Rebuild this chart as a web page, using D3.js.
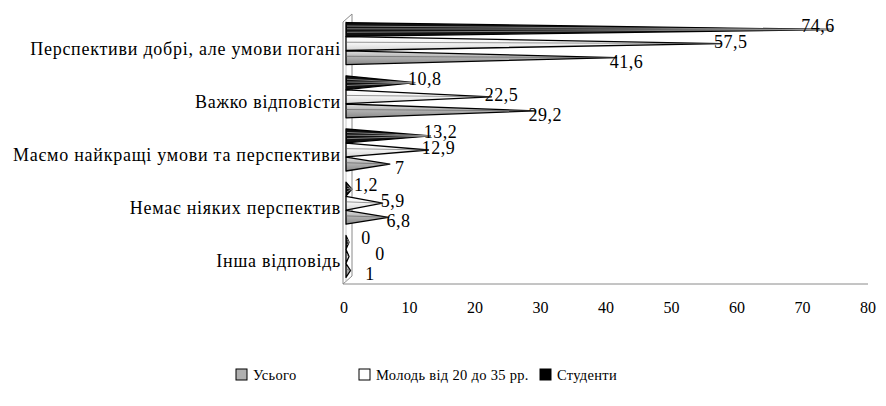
<!DOCTYPE html>
<html lang="uk">
<head>
<meta charset="UTF-8" />
<script src="https://d3js.org/d3.v7.min.js"></script>
<style>
    body { margin: 0; background: #fff; }
</style>
</head>
<body>
<svg id="chart" width="886" height="406" font-family="'Liberation Serif', serif"></svg>
<script>
    // Дані
    const categories = [
        "Перспективи добрі, але умови погані",
        "Важко відповісти",
        "Маємо найкращі умови та перспективи",
        "Немає ніяких перспектив",
        "Інша відповідь"
    ];
    const seriesNames = ["Усього", "Молодь від 20 до 35 рр.", "Студенти"];
    const totalValues = [41.6, 29.2, 7, 6.8, 1];
    const youthValues = [57.5, 22.5, 12.9, 5.9, 0];
    const studentValues = [74.6, 10.8, 13.2, 1.2, 0];
    const xTicks = [0, 10, 20, 30, 40, 50, 60, 70, 80];

    const seriesValues = [totalValues, youthValues, studentValues];
    const fills = ["url(#gTotal)", "url(#gYouth)", "#111"];
    const legendFills = ["#b0b0b0", "#fff", "#000"];
    const serif = "'Liberation Serif', 'Times New Roman', serif";

    const svg = d3.select("#chart");

    // Градієнти
    const defs = svg.append("defs");
    function grad(id, stops) {
        const g = defs.append("linearGradient").attr("id", id)
            .attr("x1", 0).attr("y1", 0).attr("x2", 0).attr("y2", 1);
        stops.forEach(s => g.append("stop").attr("offset", s[0]).attr("stop-color", s[1]));
    }
    grad("gTotal", [[0, "#e2e2e2"], [0.45, "#b2b2b2"], [1, "#8a8a8a"]]);
    grad("gYouth", [[0, "#ffffff"], [0.5, "#f3f3f3"], [1, "#d6d6d6"]]);

    // Шкали
    const x = d3.scaleLinear().domain([0, 80]).range([344, 868]);
    const y = d3.scaleBand().domain(categories).range([17, 283])
        .paddingInner(0.2).paddingOuter(0.1);
    // порядок зверху вниз: Студенти, Молодь, Усього
    const ySub = d3.scaleBand().domain([2, 1, 0]).range([0, y.bandwidth()]).padding(0.02);

    const depthX = 9, depthY = -8;

    // Стінка (вертикальна площина)
    const x0 = x(0);
    const wallTop = 22, wallBottom = 284;
    svg.append("path")
        .attr("d", `M${x0 - 1},${wallBottom} L${x0 - 1},${wallTop} L${x0 - 1 + depthX},${wallTop + depthY} L${x0 - 1 + depthX},${wallBottom + depthY} Z`)
        .attr("fill", "none").attr("stroke", "#8a8a8a").attr("stroke-width", 1);
    svg.append("line")
        .attr("x1", x0 + 2).attr("x2", x0 + 2)
        .attr("y1", wallTop - 1).attr("y2", wallBottom - 2)
        .attr("stroke", "#c8c8c8").attr("stroke-width", 1);

    // Вісь X
    svg.append("line")
        .attr("x1", x0 - 1).attr("x2", x(80))
        .attr("y1", wallBottom).attr("y2", wallBottom)
        .attr("stroke", "#8a8a8a").attr("stroke-width", 1);

    svg.append("g").selectAll("text")
        .data(xTicks)
        .join("text")
        .attr("x", d => x(d))
        .attr("y", 313)
        .attr("text-anchor", "middle")
        .attr("font-family", serif)
        .attr("font-size", 16)
        .text(d => d);

    // Підписи категорій
    svg.append("g").selectAll("text")
        .data(categories)
        .join("text")
        .attr("x", 341)
        .attr("y", d => y(d) + y.bandwidth() / 2 + 11)
        .attr("text-anchor", "end")
        .attr("font-family", serif)
        .attr("font-size", 18)
        .attr("letter-spacing", 0.75)
        .text(d => d);

    // Піраміди
    const bars = [];
    categories.forEach((c, ci) => {
        seriesValues.forEach((vals, si) => {
            bars.push({ cat: c, s: si, v: vals[ci] });
        });
    });

    const g = svg.append("g");
    bars.forEach(b => {
        const top = y(b.cat) + ySub(b.s);
        const h = ySub.bandwidth();
        const yc = top + h / 2;
        const tip = Math.max(x(b.v), x0 + 5);
        const bx = x0 + 2;
        g.append("path")
            .attr("d", `M${bx},${top} L${tip},${yc} L${bx},${top + h} Z`)
            .attr("fill", fills[b.s])
            .attr("stroke", "#000")
            .attr("stroke-width", 1.3)
            .attr("stroke-linejoin", "round");
        if (b.s === 2) {
            [0.25, 0.45, 0.7].forEach(f => {
                g.append("line")
                    .attr("x1", bx + 1).attr("y1", top + h * f)
                    .attr("x2", tip).attr("y2", yc)
                    .attr("stroke", "#9a9a9a").attr("stroke-width", 0.8);
            });
        } else {
            g.append("line")
                .attr("x1", bx).attr("y1", top + h * 0.4)
                .attr("x2", tip).attr("y2", yc)
                .attr("stroke", "#555").attr("stroke-width", 0.6);
        }
    });

    // Підписи значень (зсув по серіях: Усього, Молодь, Студенти)
    const labelDy = [4, -2, -4];
    const labelMinDx = [26, 36, 22];
    svg.append("g").selectAll("text")
        .data(bars)
        .join("text")
        .attr("x", d => Math.min(Math.max(x(d.v) + 10, x0 + labelMinDx[d.s]), 818))
        .attr("y", d => y(d.cat) + ySub(d.s) + ySub.bandwidth() / 2 + 6 + labelDy[d.s])
        .attr("text-anchor", "middle")
        .attr("font-family", serif)
        .attr("font-size", 18)
        .attr("letter-spacing", 0.5)
        .text(d => String(d.v).replace(".", ","));

    // Легенда
    const legendX = [236, 359, 540];
    const legend = svg.append("g");
    seriesNames.forEach((name, i) => {
        legend.append("rect")
            .attr("x", legendX[i]).attr("y", 369)
            .attr("width", 11).attr("height", 11)
            .attr("fill", legendFills[i])
            .attr("stroke", "#000").attr("stroke-width", 1);
        legend.append("text")
            .attr("x", legendX[i] + 17).attr("y", 380)
            .attr("font-family", serif)
            .attr("font-size", 14.5)
            .attr("letter-spacing", 0.3)
            .text(name);
    });
</script>
</body>
</html>
